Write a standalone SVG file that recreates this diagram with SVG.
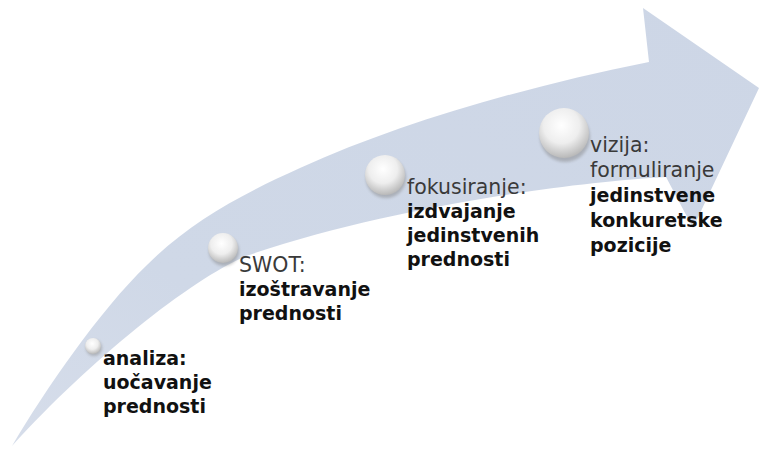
<svg xmlns="http://www.w3.org/2000/svg" width="759" height="449" viewBox="0 0 759 449">
  <defs>
    <linearGradient id="arrowGrad" x1="0" y1="1" x2="1" y2="0">
      <stop offset="0" stop-color="#D6DDEA"/>
      <stop offset="0.3" stop-color="#CFD8E7"/>
      <stop offset="1" stop-color="#CDD6E6"/>
    </linearGradient>
    <radialGradient id="sphere" cx="0.45" cy="0.35" r="0.65">
      <stop offset="0" stop-color="#FFFFFF"/>
      <stop offset="0.55" stop-color="#EEEEEE"/>
      <stop offset="1" stop-color="#B9B9B9"/>
    </radialGradient>
    <filter id="shadow" x="-50%" y="-50%" width="200%" height="200%">
      <feGaussianBlur stdDeviation="1.5"/>
    </filter>
  </defs>
  <style>
    .lbl { font-family: "DejaVu Sans", "Noto Sans", sans-serif; }
    .first { fill: #3A3A3A; font-weight: 400; font-size: 20.5px; }
    .bold { fill: #111111; font-weight: 700; font-size: 19px; }
    .shade { fill: #7F7F7F; opacity: 0.45; filter: url(#shadow); }
  </style>

  <g id="connectors">
    <path id="arrow" d="M 12 446 C 45 390, 100 310, 147 265 C 190 222, 240 195, 300 168 C 400 123, 520 88, 649 62 L 643 8 L 759 88 L 693 228 L 666 177 C 560 183, 380 210, 246 256 C 190 280, 90 360, 12 446 Z" fill="url(#arrowGrad)"/>
  </g>

  <g id="node-analiza">
    <circle class="shade" cx="94" cy="348" r="8"/>
    <circle cx="93" cy="346" r="8" fill="url(#sphere)"/>
    <text class="lbl bold" x="103" y="365">analiza:</text>
    <text class="lbl bold" x="103" y="389">uočavanje</text>
    <text class="lbl bold" x="103" y="413">prednosti</text>
  </g>

  <g id="node-swot">
    <circle class="shade" cx="224" cy="251" r="15"/>
    <circle cx="223" cy="248" r="15" fill="url(#sphere)"/>
    <text class="lbl first" x="239" y="272">SWOT:</text>
    <text class="lbl bold" x="239" y="296">izoštravanje</text>
    <text class="lbl bold" x="239" y="320">prednosti</text>
  </g>

  <g id="node-fokus">
    <circle class="shade" cx="386" cy="178" r="20"/>
    <circle cx="385" cy="175" r="20" fill="url(#sphere)"/>
    <text class="lbl first" x="407" y="194">fokusiranje:</text>
    <text class="lbl bold" x="407" y="218">izdvajanje</text>
    <text class="lbl bold" x="407" y="242">jedinstvenih</text>
    <text class="lbl bold" x="407" y="266">prednosti</text>
  </g>

  <g id="node-vizija">
    <circle class="shade" cx="565" cy="137" r="25"/>
    <circle cx="564" cy="133" r="25" fill="url(#sphere)"/>
    <text class="lbl first" x="590" y="152">vizija:</text>
    <text class="lbl first" x="590" y="177">formuliranje</text>
    <text class="lbl bold" x="590" y="202">jedinstvene</text>
    <text class="lbl bold" x="590" y="227">konkuretske</text>
    <text class="lbl bold" x="590" y="252">pozicije</text>
  </g>
</svg>
